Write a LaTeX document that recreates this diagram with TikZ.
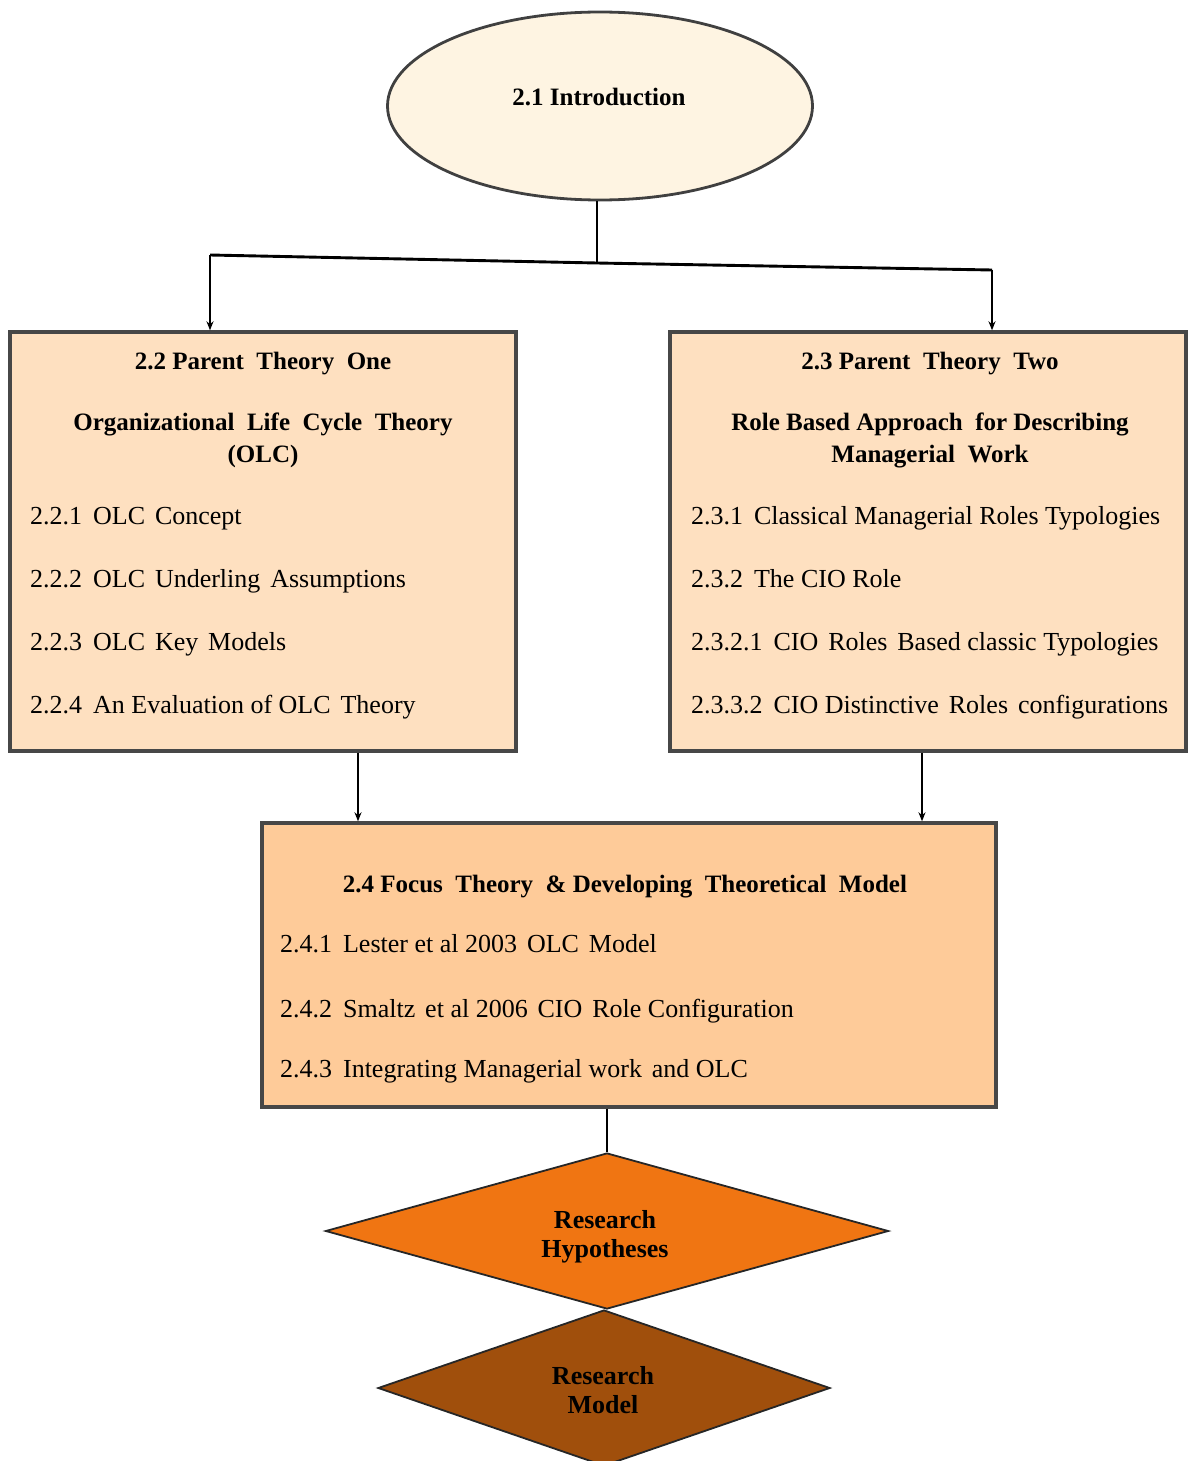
\documentclass[tikz,border=0pt]{standalone}
\usepackage{fontspec}
\setmainfont{Liberation Serif}
\usetikzlibrary{shapes.geometric,arrows.meta}
\definecolor{introfill}{HTML}{FEF4E2}
\definecolor{parentfill}{HTML}{FEE0C0}
\definecolor{focusfill}{HTML}{FECB99}
\definecolor{hypfill}{HTML}{F07512}
\definecolor{modelfill}{HTML}{A04F0C}
\newcommand{\numsep}{\hspace{0.42em}}
\newcommand{\ws}{\hspace{0.38em}}
\begin{document}
\begin{tikzpicture}[x=1pt,y=-1pt,
  boxstyle/.style={draw=black!72,line width=3.4pt,rectangle,inner sep=0pt},
  dmstyle/.style={draw=black!85,line width=1.8pt,diamond,inner sep=0pt},
  ttl/.style={font=\fontsize{25}{29}\selectfont\bfseries,inner sep=0pt,anchor=base},
  dtl/.style={font=\fontsize{26}{29}\selectfont\bfseries,inner sep=0pt,anchor=center,align=center},
  itm/.style={font=\fontsize{26}{29}\selectfont,inner sep=0pt,anchor=base west},
  conn/.style={line width=2.9pt,black},
  arr/.style={conn,-{Stealth[length=9pt,width=7pt]}}]
\useasboundingbox (0,0) rectangle (1188,1461);

% shapes
\node[ellipse,draw=black!75,line width=2.8pt,fill=introfill,minimum width=425pt,minimum height=188pt,inner sep=0pt] (intro) at (600,106) {};
\node[boxstyle,fill=parentfill,minimum width=506pt,minimum height=419pt] (left) at (263,541.5) {};
\node[boxstyle,fill=parentfill,minimum width=516pt,minimum height=419pt] (right) at (928,541.5) {};
\node[boxstyle,fill=focusfill,minimum width=734pt,minimum height=284pt] (focus) at (629,965) {};
\node[dmstyle,fill=hypfill,minimum width=563pt,minimum height=156pt] (hyp) at (607,1231) {};
\node[dmstyle,fill=modelfill,minimum width=452pt,minimum height=156pt] (model) at (604,1388) {};

% texts
\node[ttl] (introtxt) at (599,106) {2.1 Introduction};

\node[ttl] (lt1) at (263,369) {2.2 Parent\ \ Theory\ \ One};
\node[ttl] (lt2) at (263,430) {Organizational\ \ Life\ \ Cycle\ \ Theory};
\node[ttl] (lt3) at (263,462) {(OLC)};
\node[itm] (li1) at (30,524) {2.2.1\numsep OLC\ws Concept};
\node[itm] (li2) at (30,587) {2.2.2\numsep OLC\ws Underling\ws Assumptions};
\node[itm] (li3) at (30,650) {2.2.3\numsep OLC\ws Key\ws Models};
\node[itm] (li4) at (30,713) {2.2.4\numsep An Evaluation of OLC\ws Theory};

\node[ttl] (rt1) at (930,369) {2.3 Parent\ \ Theory\ \ Two};
\node[ttl] (rt2) at (930,430) {Role Based Approach\ \ for Describing};
\node[ttl] (rt3) at (930,462) {Managerial\ \ Work};
\node[itm] (ri1) at (691,524) {2.3.1\numsep Classical Managerial Roles Typologies};
\node[itm] (ri2) at (691,587) {2.3.2\numsep The CIO Role};
\node[itm] (ri3) at (691,650) {2.3.2.1\numsep CIO\ws Roles\ws Based classic Typologies};
\node[itm] (ri4) at (691,713) {2.3.3.2\numsep CIO Distinctive\ws Roles\ws configurations};

\node[ttl] (ft1) at (625,892) {2.4 Focus\ \ Theory\ \ \& Developing\ \ Theoretical\ \ Model};
\node[itm] (fi1) at (280,952) {2.4.1\numsep Lester et al 2003\ws OLC\ws Model};
\node[itm] (fi2) at (280,1017) {2.4.2\numsep Smaltz\ws et al 2006\ws CIO\ws Role Configuration};
\node[itm] (fi3) at (280,1077) {2.4.3\numsep Integrating Managerial work\ws and OLC};

\node[dtl] (hyptxt) at (605,1236.5) {Research\\Hypotheses};
\node[dtl] (modeltxt) at (603,1390) {Research\\Model};

% connectors
\coordinate (jl) at (210,255);
\coordinate (jm) at (597,263);
\coordinate (jr) at (992,270);
\coordinate (al) at (358,0);
\coordinate (ar) at (922,0);
\draw[conn] (jm |- intro.south) -- (jm);
\draw[conn] (jl) -- (jm) -- (jr);
\draw[arr] (jl) -- (jl |- left.north);
\draw[arr] (jr) -- (jr |- right.north);
\draw[arr] (al |- left.south) -- (al |- focus.north);
\draw[arr] (ar |- right.south) -- (ar |- focus.north);
\draw[conn] (hyp.north |- focus.south) -- (hyp.north);
\end{tikzpicture}
\end{document}
